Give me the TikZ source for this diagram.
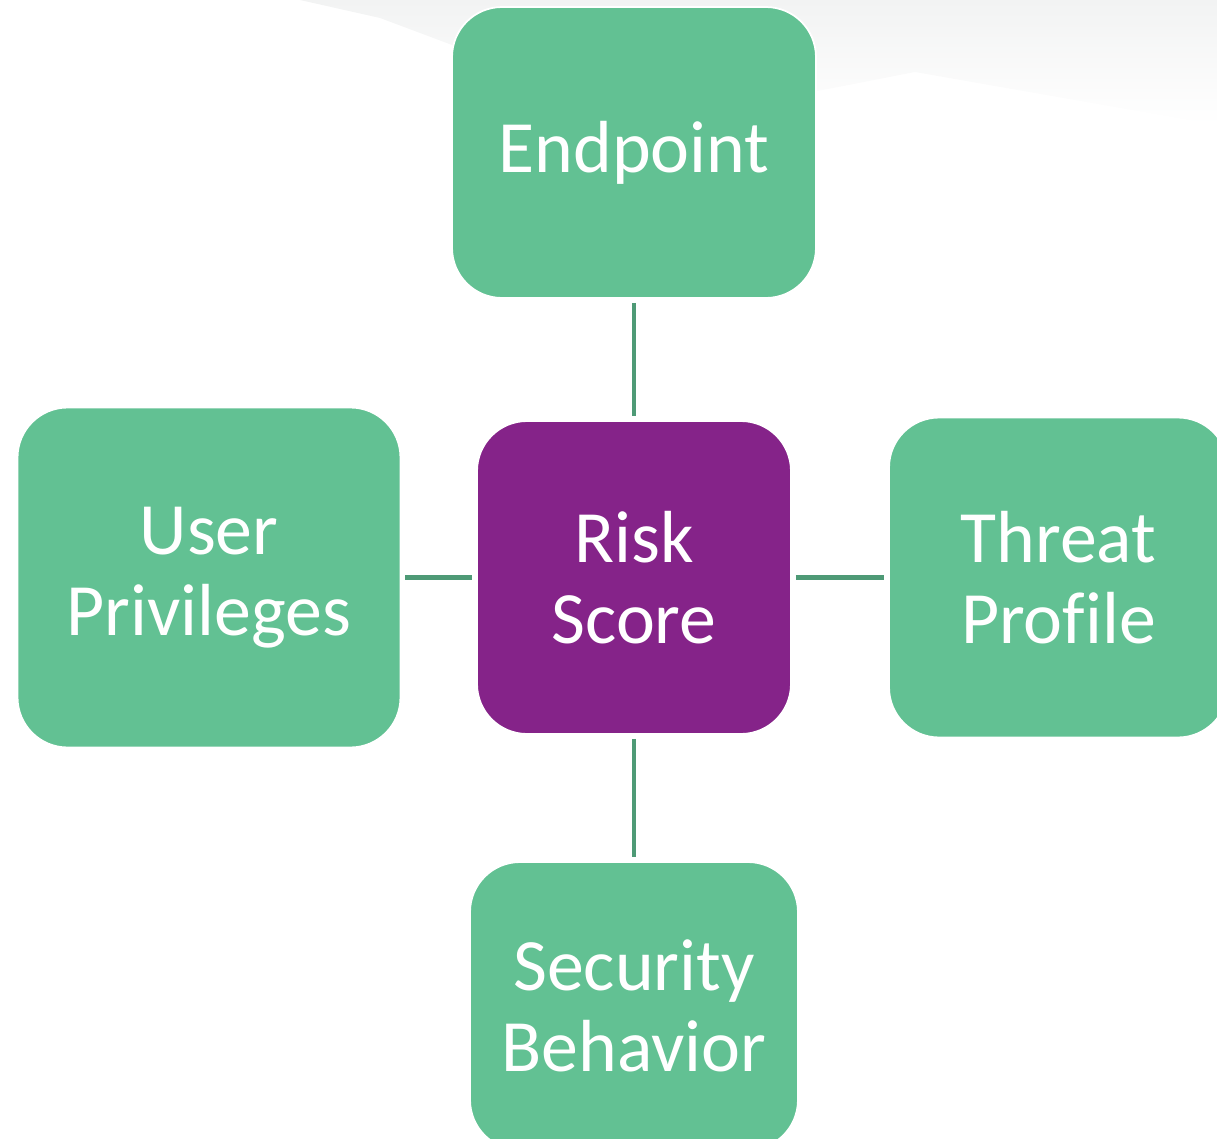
\documentclass[tikz,border=0pt]{standalone}
\usepackage{fontspec}
\setmainfont{Carlito}[Ligatures=NoCommon]
\definecolor{boxgreen}{RGB}{98,193,147}
\definecolor{riskpurple}{RGB}{133,35,137}
\definecolor{linkgreen}{RGB}{78,154,118}
\definecolor{swoosh}{RGB}{242,243,243}

\begin{document}
\begin{tikzpicture}[x=0.02cm, y=-0.02cm,
	factor/.style={rectangle, rounded corners=1cm, fill=boxgreen, draw=white, line width=1pt, text=white, align=center, font=\fontsize{42}{46}\selectfont},
	link/.style={linkgreen, line width=2.8pt, shorten <=0.08cm, shorten >=0.08cm}]
	\useasboundingbox (0,0) rectangle (1217,1139);
	\clip (0,0) rectangle (1217,1139);
	% faint backdrop at the top
	\shade[top color=swoosh, bottom color=white] (300,0) -- (1217,0) -- (1217,125) -- (915,72) -- (787,97) -- (452,45) -- (380,18) -- cycle;
	\node[factor, fill=riskpurple, minimum width=6.28cm, minimum height=6.26cm] (risk) at (634,577.5) {Risk\\Score};
	\node[factor, minimum width=7.28cm, minimum height=5.82cm] (endpoint) at (634,152.5) {Endpoint};
	\node[factor, minimum width=7.66cm, minimum height=6.8cm] (user) at (209,577.5) {User\\Privileges};
	\node[factor, minimum width=6.78cm, minimum height=6.4cm] (threat) at (1058.5,577.5) {Threat\\Profile};
	\node[factor, minimum width=6.56cm, minimum height=5.76cm] (security) at (634,1006) {Security\\Behavior};
	\draw[link] (endpoint) -- (risk);
	\draw[link] (user) -- (risk);
	\draw[link] (risk) -- (threat);
	\draw[link] (risk) -- (security);
\end{tikzpicture}
\end{document}
